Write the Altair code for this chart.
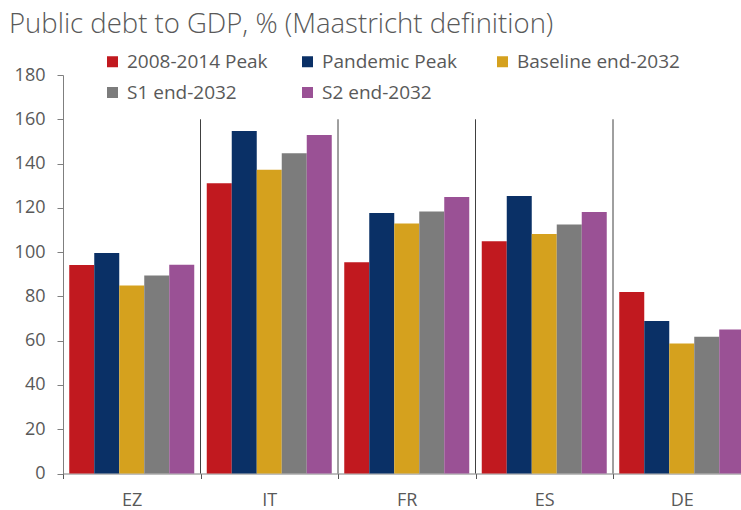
import altair as alt
import pandas as pd

groups = ["EZ", "IT", "FR", "ES", "DE"]
series = ["2008-2014 Peak", "Pandemic Peak", "Baseline end-2032", "S1 end-2032", "S2 end-2032"]
peak_0814 = [94.2, 131.1, 95.4, 104.9, 82.0]
pandemic = [99.6, 154.7, 117.7, 125.3, 68.9]
baseline = [84.9, 137.2, 112.9, 108.2, 58.7]
s1 = [89.4, 144.7, 118.4, 112.5, 61.8]
s2 = [94.3, 152.9, 124.9, 118.1, 65.0]
colors = ["#C1191F", "#0A3066", "#D5A11E", "#7C7C7C", "#9A5195"]
y_ticks = [0, 20, 40, 60, 80, 100, 120, 140, 160, 180]

rows = []
for name, vals in zip(series, [peak_0814, pandemic, baseline, s1, s2]):
    for g, v in zip(groups, vals):
        rows.append({"group": g, "series": name, "value": v})
df = pd.DataFrame(rows)
sep_df = pd.DataFrame({"group": groups[1:]})

FONT = "Open Sans"
GREY = "#595959"

bars = alt.Chart(df).mark_bar().encode(
    x=alt.X("group:N", sort=groups,
            scale=alt.Scale(domain=groups, paddingInner=0, paddingOuter=0),
            axis=alt.Axis(title=None, labelAngle=0, tickBand="extent", tickSize=5,
                          domainColor="#7f7f7f", tickColor="#555555", labelFontSize=18,
                          labelColor=GREY, labelFont=FONT, labelPadding=13)),
    xOffset=alt.XOffset("series:N", sort=series,
                        scale=alt.Scale(domain=series, paddingInner=0, paddingOuter=0.25)),
    y=alt.Y("value:Q", scale=alt.Scale(domain=[0, 180]),
            axis=alt.Axis(title=None, values=y_ticks, grid=False, tickSize=6,
                          domainColor="#7f7f7f", tickColor="#7f7f7f", labelFontSize=18,
                          labelColor=GREY, labelFont=FONT, labelPadding=12)),
    color=alt.Color("series:N", sort=series,
                    scale=alt.Scale(domain=series, range=colors),
                    legend=alt.Legend(title=None, orient="none", legendX=40, legendY=-23,
                                      direction="horizontal", columns=3,
                                      symbolType="square", symbolSize=121,
                                      symbolStrokeWidth=0, labelFontSize=19, labelColor=GREY,
                                      labelFont=FONT, columnPadding=8, rowPadding=11,
                                      gridAlign="all", labelOffset=5, labelLimit=300)),
)

seps = alt.Chart(sep_df).mark_rule(color="#404040", strokeWidth=1).encode(
    x=alt.X("group:N", sort=groups, bandPosition=0),
    y=alt.datum(160),
    y2=alt.datum(0),
)

chart = alt.layer(bars, seps).properties(
    width=687.5,
    height=398.5,
    autosize=alt.AutoSizeParams(type="none"),
    padding={"left": 63, "top": 75, "right": -10, "bottom": 36},
    title=alt.Title("Public debt to GDP, % (Maastricht definition)", anchor="start",
                    frame="group", dx=-54, fontSize=27.5, fontWeight=300, color=GREY,
                    font=FONT, offset=14),
).configure_view(stroke=None)

chart.save("out.html", embed_options={"renderer": "svg", "actions": False})
